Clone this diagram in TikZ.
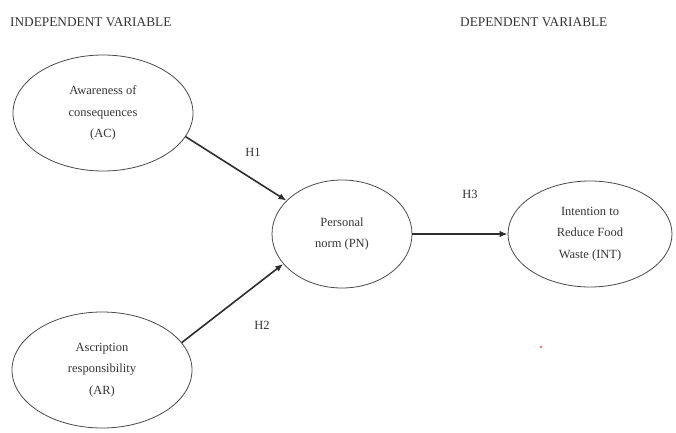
\documentclass[tikz,border=0pt]{standalone}
\usepackage{fontspec}
\setmainfont{Liberation Serif}
\usetikzlibrary{shapes.geometric,arrows.meta}
\definecolor{txt}{HTML}{353535}
\definecolor{edge}{HTML}{4A4A4A}
\definecolor{arr}{HTML}{2E2E2E}
\tikzset{
  var/.style={ellipse, draw=edge, line width=0.8pt, inner sep=0pt, align=center, text=txt,
    font=\fontsize{12.5}{21.5}\selectfont},
  hyp/.style={-{Latex[length=8pt,width=6.5pt]}, draw=arr, line width=1.6pt},
  lbl/.style={text=txt, font=\fontsize{12.5}{15}\selectfont, inner sep=0pt},
  head/.style={text=txt, font=\fontsize{13.3}{15}\selectfont, inner sep=0pt, anchor=west},
}
\begin{document}
\begin{tikzpicture}[x=1pt,y=1pt]
\useasboundingbox[fill=white] (0,0) rectangle (676,432);
\node[head] (hin) at (10,410) {INDEPENDENT VARIABLE};
\node[head] (hdep) at (460,410) {DEPENDENT VARIABLE};
\node[var, minimum width=180, minimum height=116] (AC) at (103,319) {Awareness of\\consequences\\(AC)};
\node[var, minimum width=180, minimum height=116] (AR) at (102,62) {Ascription\\responsibility\\(AR)};
\node[var, minimum width=140, minimum height=108] (PN) at (342,198) {Personal\\norm (PN)};
\node[var, minimum width=164, minimum height=106] (INT) at (590,198) {Intention to\\Reduce Food\\Waste (INT)};
\draw[hyp] (AC.-16) -- (PN.149);
\draw[hyp] (AR.19) -- (PN.207);
\draw[hyp] (PN.east) -- (INT.west);
\node[lbl] (h1) at (253,280) {H1};
\node[lbl] (h2) at (262,107) {H2};
\node[lbl] (h3) at (470,238) {H3};
\fill[red!60!white] (541,85) circle (1.4);
\end{tikzpicture}
\end{document}
